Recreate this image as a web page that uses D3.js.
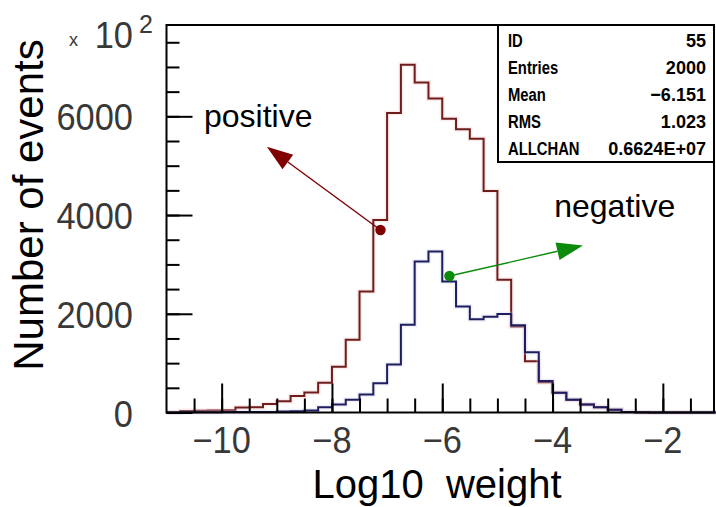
<!DOCTYPE html>
<html lang="en">
<head>
  <meta charset="UTF-8">
  <title>Log10 weight</title>
  <script src="https://d3js.org/d3.v7.min.js"></script>
  <style>
    body { margin: 0; background: #ffffff; }
    svg { display: block; background: #ffffff; }
    .tick-label { font-family: "Liberation Sans", Arial, sans-serif; font-size: 37px; fill: #383838; }
    .title { font-family: "Liberation Sans", Arial, sans-serif; font-size: 40px; fill: #000; }
    .note { font-family: "Liberation Sans", Arial, sans-serif; font-size: 32px; fill: #000; }
    .stat { font-family: "Liberation Sans", Arial, sans-serif; font-size: 19px; font-weight: bold; fill: #000; }
  </style>
</head>
<body>
  <svg id="chart"></svg>
  <script>
    // histogram bins: 40 bins of 0.25 from -11 to -1 (units of 10^2 events)
    const binLo = -11;
    const binWidth = 0.25;
    const positive = [0, 30, 35, 40, 45, 100, 105, 170, 230, 335,
                      405, 605, 925, 1475, 2450, 3900, 6065, 7044, 6686, 6359,
                      5953, 5737, 5548, 4486, 2690, 1740, 1040, 615, 400, 257,
                      162, 107, 55, 12, 0, 0, 0, 0, 0, 0];
    const negative = [0, 5, 5, 5, 8, 8, 10, 10, 20, 25,
                      40, 107, 162, 257, 365, 594, 973, 1778, 3057, 3260,
                      2652, 2145, 1890, 1940, 1997, 1765, 1220, 640, 400, 257,
                      162, 107, 55, 12, 4, 0, 0, 0, 0, 0];

    const xMajorTicks = [-10, -8, -6, -4, -2];
    const xTickLabels = ["\u221210", "\u22128", "\u22126", "\u22124", "\u22122"];
    const yMajorTicks = [0, 2000, 4000, 6000];
    const yTickLabels = ["0", "2000", "4000", "6000"];

    const statNames = ["ID", "Entries", "Mean", "RMS", "ALLCHAN"];
    const statValues = ["55", "2000", "\u22126.151", "1.023", "0.6624E+07"];

    // annotations in data coordinates: label, label anchor, dot, arrow tip
    const notes = [
      { text: "positive", tx: -10.32, ty: 5774, dx: -7.12, dy: 3697, ax: -9.18, ay: 5385, color: "#800000" },
      { text: "negative", tx: -3.97, ty: 3961, dx: -5.87, dy: 2765, ax: -3.45, ay: 3383, color: "#0b8a0b" }
    ];

    const W = 716, H = 507;
    const frame = { left: 166.5, top: 25, right: 714, bottom: 412.5 };

    const svg = d3.select("#chart").attr("width", W).attr("height", H);

    const x = d3.scaleLinear().domain([-11, -1]).range([frame.left, 718]);
    const y = d3.scaleLinear().domain([0, 7850]).range([frame.bottom, frame.top]);

    function histPoints(vals) {
      const pts = [[binLo, 0]];
      vals.forEach((v, i) => pts.push([binLo + i * binWidth, v]));
      pts.push([binLo + vals.length * binWidth, 0]);
      return pts;
    }

    const line = d3.line()
      .x(d => x(d[0]))
      .y(d => y(d[1]))
      .curve(d3.curveStepAfter);

    const plot = svg.append("g");

    // faint halo then the line, like the original scan
    [[positive, "#f4c4c4", "#6e1c1c"], [negative, "#cfcff0", "#1e1e5e"]].forEach(([vals, halo, col]) => {
      plot.append("path")
        .attr("d", line(histPoints(vals)))
        .attr("fill", "none")
        .attr("stroke", halo)
        .attr("stroke-opacity", 0.3)
        .attr("stroke-width", 5);
      plot.append("path")
        .attr("d", line(histPoints(vals)))
        .attr("fill", "none")
        .attr("stroke", col)
        .attr("stroke-width", 2);
    });

    // ticks inside the frame
    const xMajorAxis = d3.axisTop(x).tickValues(xMajorTicks).tickSize(29).tickFormat("");
    const xMinorAxis = d3.axisTop(x).tickValues(d3.range(-10.5, -1, 0.5)).tickSize(14).tickFormat("");
    const yMajorAxis = d3.axisRight(y).tickValues(yMajorTicks).tickSize(26).tickFormat("");
    const yMinorAxis = d3.axisRight(y).tickValues(d3.range(500, 7600, 500)).tickSize(13).tickFormat("");

    [[xMinorAxis, `translate(0,${frame.bottom})`], [xMajorAxis, `translate(0,${frame.bottom})`],
     [yMinorAxis, `translate(${frame.left},0)`], [yMajorAxis, `translate(${frame.left},0)`]].forEach(([ax, tr]) => {
      const g = svg.append("g").attr("transform", tr).call(ax);
      g.select(".domain").remove();
      g.selectAll("line").attr("stroke", "#000").attr("stroke-width", 2);
    });

    svg.append("rect")
      .attr("x", frame.left).attr("y", frame.top)
      .attr("width", frame.right - frame.left).attr("height", frame.bottom - frame.top)
      .attr("fill", "none").attr("stroke", "#000").attr("stroke-width", 2);

    // tick labels
    svg.selectAll(".xlab")
      .data(xMajorTicks)
      .enter()
      .append("text")
      .attr("class", "tick-label")
      .attr("text-anchor", "middle")
      .attr("transform", d => `translate(${x(d)},453) scale(0.93,1)`)
      .text((d, i) => xTickLabels[i]);

    svg.selectAll(".ylab")
      .data(yMajorTicks)
      .enter()
      .append("text")
      .attr("class", "tick-label")
      .attr("text-anchor", "end")
      .attr("transform", d => `translate(133,${y(d) + 14}) scale(0.93,1)`)
      .text((d, i) => yTickLabels[i]);

    // x 10^2 multiplier
    svg.append("text").attr("class", "tick-label").attr("x", 69).attr("y", 46)
      .style("font-size", "18px").text("x");
    svg.append("text").attr("class", "tick-label").attr("text-anchor", "end")
      .attr("transform", "translate(133,48) scale(0.93,1)").text("10");
    svg.append("text").attr("class", "tick-label").attr("x", 139).attr("y", 33)
      .style("font-size", "25px").text("2");

    // axis titles
    svg.append("text").attr("class", "title")
      .attr("text-anchor", "middle")
      .attr("transform", "translate(43,205) rotate(-90)")
      .style("font-size", "42px")
      .text("Number of events");
    svg.append("text").attr("class", "title")
      .attr("x", 437).attr("y", 498)
      .attr("text-anchor", "middle")
      .attr("xml:space", "preserve")
      .style("white-space", "pre")
      .text("Log10  weight");

    // statistics box
    const box = { left: 498, top: 25, right: 714, bottom: 162 };
    svg.append("rect")
      .attr("x", box.left).attr("y", box.top)
      .attr("width", box.right - box.left).attr("height", box.bottom - box.top)
      .attr("fill", "#fff").attr("stroke", "#000").attr("stroke-width", 2);
    const rowY = d3.scalePoint().domain(statNames).range([47, 155]);
    svg.selectAll(".sname")
      .data(statNames)
      .enter()
      .append("text")
      .attr("class", "stat")
      .attr("transform", d => `translate(508,${rowY(d)}) scale(0.78,1)`)
      .text(d => d);
    svg.selectAll(".sval")
      .data(statNames)
      .enter()
      .append("text")
      .attr("class", "stat")
      .attr("text-anchor", "end")
      .attr("transform", d => `translate(706,${rowY(d)}) scale(0.95,1)`)
      .text((d, i) => statValues[i]);

    // annotations
    notes.forEach(n => {
      const p0 = [x(n.dx), y(n.dy)];
      const p1 = [x(n.ax), y(n.ay)];
      const len = Math.hypot(p1[0] - p0[0], p1[1] - p0[1]);
      const ux = (p1[0] - p0[0]) / len, uy = (p1[1] - p0[1]) / len;
      const headL = 26, headW = 9;
      const bx = p1[0] - ux * headL, by = p1[1] - uy * headL;
      svg.append("line")
        .attr("x1", p0[0]).attr("y1", p0[1])
        .attr("x2", bx).attr("y2", by)
        .attr("stroke", n.color).attr("stroke-width", 1.4);
      svg.append("path")
        .attr("d", `M${p1[0]},${p1[1]}L${bx - uy * headW},${by + ux * headW}L${bx + uy * headW},${by - ux * headW}Z`)
        .attr("fill", n.color);
      svg.append("circle")
        .attr("cx", p0[0]).attr("cy", p0[1]).attr("r", 5.2)
        .attr("fill", n.color);
      svg.append("text").attr("class", "note")
        .attr("x", x(n.tx)).attr("y", y(n.ty))
        .text(n.text);
    });
  </script>
</body>
</html>
